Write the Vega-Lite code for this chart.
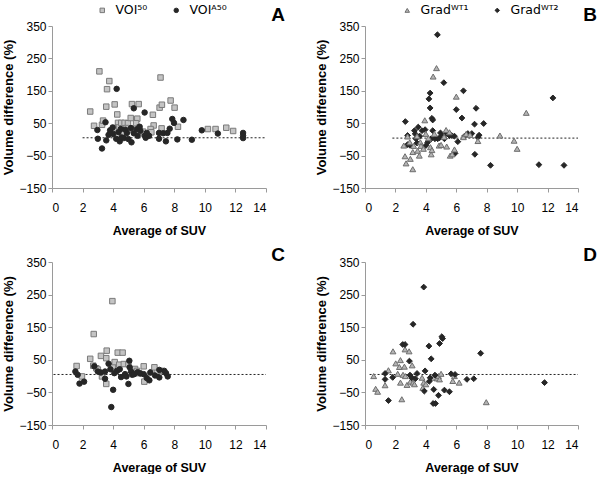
{
  "$schema": "https://vega.github.io/schema/vega-lite/v6.json",
  "background": "white",
  "padding": {"left": 2, "top": 4, "right": 0, "bottom": 0},
  "autosize": {"type": "pad"},
  "columns": 2,
  "spacing": {"row": 9, "column": 30},
  "config": {
    "view": {"stroke": null},
    "font": "Liberation Sans",
    "axis": {
      "grid": false,
      "domainColor": "#9a9a9a",
      "tickColor": "#9a9a9a",
      "tickSize": 4,
      "labelFont": "Liberation Sans",
      "labelFontSize": 12,
      "labelColor": "#000000",
      "titleFont": "Liberation Sans",
      "titleFontSize": 13,
      "titleFontWeight": "bold",
      "titleColor": "#000000"
    },
    "axisX": {"labelPadding": 10, "titlePadding": 11, "titleFontSize": 12.5},
    "axisY": {"labelPadding": 2, "titlePadding": 3},
    "legend": {
      "labelFont": "DejaVu Sans",
      "labelFontSize": 12.5,
      "labelColor": "#000000",
      "symbolSize": 20,
      "symbolStrokeWidth": 1,
      "columnPadding": 22,
      "labelOffset": 7
    },
    "title": {"font": "Liberation Sans", "fontSize": 19, "fontWeight": "bold", "color": "#000000", "anchor": "end", "frame": "group"}
  },
  "resolve": {
    "scale": {"x": "independent", "y": "independent", "color": "independent", "shape": "independent", "stroke": "independent"},
    "legend": {"color": "independent", "shape": "independent", "stroke": "independent"}
  },
  "datasets": {
    "lines": [
      {"p": "A", "x": 2.0, "xe": 14, "y": 5},
      {"p": "B", "x": 1.8, "xe": 14, "y": 4},
      {"p": "C", "x": 0.1, "xe": 14, "y": 5},
      {"p": "D", "x": 0.3, "xe": 14, "y": 5}
    ],
    "A": [
      {"x": 2.5, "y": 86, "s": "VOI⁵⁰"}, {"x": 2.75, "y": 42, "s": "VOI⁵⁰"}, {"x": 3.1, "y": 210, "s": "VOI⁵⁰"}, {"x": 3.27, "y": 45, "s": "VOI⁵⁰"},
      {"x": 3.34, "y": 58, "s": "VOI⁵⁰"}, {"x": 3.6, "y": 155, "s": "VOI⁵⁰"}, {"x": 3.75, "y": 180, "s": "VOI⁵⁰"}, {"x": 3.55, "y": 101, "s": "VOI⁵⁰"},
      {"x": 4.1, "y": 108, "s": "VOI⁵⁰"}, {"x": 4.27, "y": 77, "s": "VOI⁵⁰"}, {"x": 4.32, "y": 51, "s": "VOI⁵⁰"}, {"x": 4.3, "y": 37, "s": "VOI⁵⁰"},
      {"x": 4.53, "y": 51, "s": "VOI⁵⁰"}, {"x": 4.75, "y": 51, "s": "VOI⁵⁰"}, {"x": 4.97, "y": 50, "s": "VOI⁵⁰"}, {"x": 5.23, "y": 109, "s": "VOI⁵⁰"},
      {"x": 5.15, "y": 66, "s": "VOI⁵⁰"}, {"x": 5.67, "y": 109, "s": "VOI⁵⁰"}, {"x": 5.58, "y": 64, "s": "VOI⁵⁰"}, {"x": 5.5, "y": 50, "s": "VOI⁵⁰"},
      {"x": 5.95, "y": 24, "s": "VOI⁵⁰"}, {"x": 6.6, "y": 76, "s": "VOI⁵⁰"}, {"x": 6.65, "y": 43, "s": "VOI⁵⁰"}, {"x": 6.45, "y": 32, "s": "VOI⁵⁰"},
      {"x": 6.5, "y": 22, "s": "VOI⁵⁰"}, {"x": 7.04, "y": 98, "s": "VOI⁵⁰"}, {"x": 7.19, "y": 107, "s": "VOI⁵⁰"}, {"x": 7.1, "y": 191, "s": "VOI⁵⁰"},
      {"x": 7.17, "y": 34, "s": "VOI⁵⁰"}, {"x": 7.76, "y": 120, "s": "VOI⁵⁰"}, {"x": 8.02, "y": 98, "s": "VOI⁵⁰"}, {"x": 8.24, "y": 39, "s": "VOI⁵⁰"},
      {"x": 10.2, "y": 32, "s": "VOI⁵⁰"}, {"x": 10.7, "y": 32, "s": "VOI⁵⁰"}, {"x": 11.4, "y": 36, "s": "VOI⁵⁰"}, {"x": 11.85, "y": 26, "s": "VOI⁵⁰"},
      {"x": 6.05, "y": 16, "s": "VOI⁵⁰"}, {"x": 4.6, "y": 22, "s": "VOI⁵⁰"}, {"x": 4.85, "y": 35, "s": "VOI⁵⁰"}, {"x": 5.3, "y": 30, "s": "VOI⁵⁰"},
      {"x": 4.05, "y": 34, "s": "VOI⁵⁰"}, {"x": 5.7, "y": 36, "s": "VOI⁵⁰"},
      {"x": 2.97, "y": 29, "s": "VOIᴬ⁵⁰"}, {"x": 3.0, "y": 2, "s": "VOIᴬ⁵⁰"}, {"x": 3.27, "y": -28, "s": "VOIᴬ⁵⁰"}, {"x": 3.5, "y": 53, "s": "VOIᴬ⁵⁰"},
      {"x": 3.55, "y": -3, "s": "VOIᴬ⁵⁰"}, {"x": 3.7, "y": 14, "s": "VOIᴬ⁵⁰"}, {"x": 3.8, "y": 28, "s": "VOIᴬ⁵⁰"}, {"x": 3.97, "y": 37, "s": "VOIᴬ⁵⁰"},
      {"x": 4.0, "y": 17, "s": "VOIᴬ⁵⁰"}, {"x": 4.23, "y": 156, "s": "VOIᴬ⁵⁰"}, {"x": 4.2, "y": 2, "s": "VOIᴬ⁵⁰"}, {"x": 4.43, "y": -6, "s": "VOIᴬ⁵⁰"},
      {"x": 4.5, "y": 32, "s": "VOIᴬ⁵⁰"}, {"x": 4.55, "y": 6, "s": "VOIᴬ⁵⁰"}, {"x": 4.7, "y": 4, "s": "VOIᴬ⁵⁰"}, {"x": 4.9, "y": 20, "s": "VOIᴬ⁵⁰"},
      {"x": 5.0, "y": 1, "s": "VOIᴬ⁵⁰"}, {"x": 5.17, "y": 35, "s": "VOIᴬ⁵⁰"}, {"x": 5.2, "y": -9, "s": "VOIᴬ⁵⁰"}, {"x": 5.35, "y": 96, "s": "VOIᴬ⁵⁰"},
      {"x": 5.35, "y": 19, "s": "VOIᴬ⁵⁰"}, {"x": 5.55, "y": 31, "s": "VOIᴬ⁵⁰"}, {"x": 5.6, "y": 11, "s": "VOIᴬ⁵⁰"}, {"x": 5.73, "y": 39, "s": "VOIᴬ⁵⁰"},
      {"x": 5.78, "y": 27, "s": "VOIᴬ⁵⁰"}, {"x": 6.06, "y": 83, "s": "VOIᴬ⁵⁰"}, {"x": 6.08, "y": 12, "s": "VOIᴬ⁵⁰"}, {"x": 6.13, "y": 5, "s": "VOIᴬ⁵⁰"},
      {"x": 6.35, "y": 11, "s": "VOIᴬ⁵⁰"}, {"x": 7.0, "y": 20, "s": "VOIᴬ⁵⁰"}, {"x": 7.0, "y": 2, "s": "VOIᴬ⁵⁰"}, {"x": 7.28, "y": 19, "s": "VOIᴬ⁵⁰"},
      {"x": 7.45, "y": -6, "s": "VOIᴬ⁵⁰"}, {"x": 7.55, "y": 20, "s": "VOIᴬ⁵⁰"}, {"x": 7.7, "y": 33, "s": "VOIᴬ⁵⁰"}, {"x": 7.87, "y": 63, "s": "VOIᴬ⁵⁰"},
      {"x": 7.98, "y": 51, "s": "VOIᴬ⁵⁰"}, {"x": 8.2, "y": 0, "s": "VOIᴬ⁵⁰"}, {"x": 8.6, "y": 60, "s": "VOIᴬ⁵⁰"}, {"x": 9.15, "y": -1, "s": "VOIᴬ⁵⁰"},
      {"x": 9.8, "y": 28, "s": "VOIᴬ⁵⁰"}, {"x": 10.85, "y": 18, "s": "VOIᴬ⁵⁰"}, {"x": 12.5, "y": 20, "s": "VOIᴬ⁵⁰"}, {"x": 12.5, "y": 12, "s": "VOIᴬ⁵⁰"},
      {"x": 12.5, "y": 4, "s": "VOIᴬ⁵⁰"}, {"x": 4.35, "y": 22, "s": "VOIᴬ⁵⁰"}, {"x": 4.8, "y": 30, "s": "VOIᴬ⁵⁰"}, {"x": 6.2, "y": 20, "s": "VOIᴬ⁵⁰"}
    ],
    "B": [
      {"x": 2.65, "y": 55, "s": "Gradᵂᵀ²"}, {"x": 2.8, "y": 12, "s": "Gradᵂᵀ²"}, {"x": 2.8, "y": -16, "s": "Gradᵂᵀ²"}, {"x": 2.95, "y": -18, "s": "Gradᵂᵀ²"},
      {"x": 3.25, "y": 27, "s": "Gradᵂᵀ²"}, {"x": 3.3, "y": 17, "s": "Gradᵂᵀ²"}, {"x": 3.35, "y": 2, "s": "Gradᵂᵀ²"}, {"x": 3.42, "y": -11, "s": "Gradᵂᵀ²"},
      {"x": 3.5, "y": 38, "s": "Gradᵂᵀ²"}, {"x": 3.75, "y": 27, "s": "Gradᵂᵀ²"}, {"x": 3.95, "y": 30, "s": "Gradᵂᵀ²"}, {"x": 4.0, "y": -19, "s": "Gradᵂᵀ²"},
      {"x": 4.12, "y": -9, "s": "Gradᵂᵀ²"}, {"x": 4.2, "y": 125, "s": "Gradᵂᵀ²"}, {"x": 4.28, "y": 143, "s": "Gradᵂᵀ²"}, {"x": 4.28, "y": 97, "s": "Gradᵂᵀ²"},
      {"x": 4.35, "y": 2, "s": "Gradᵂᵀ²"}, {"x": 4.4, "y": 65, "s": "Gradᵂᵀ²"}, {"x": 4.45, "y": 60, "s": "Gradᵂᵀ²"}, {"x": 4.45, "y": 27, "s": "Gradᵂᵀ²"},
      {"x": 4.6, "y": 2, "s": "Gradᵂᵀ²"}, {"x": 4.76, "y": 323, "s": "Gradᵂᵀ²"}, {"x": 4.78, "y": 2, "s": "Gradᵂᵀ²"}, {"x": 4.96, "y": 20, "s": "Gradᵂᵀ²"},
      {"x": 5.18, "y": 175, "s": "Gradᵂᵀ²"}, {"x": 5.22, "y": 2, "s": "Gradᵂᵀ²"}, {"x": 5.37, "y": 18, "s": "Gradᵂᵀ²"}, {"x": 5.55, "y": 12, "s": "Gradᵂᵀ²"},
      {"x": 5.7, "y": 12, "s": "Gradᵂᵀ²"}, {"x": 5.88, "y": 10, "s": "Gradᵂᵀ²"}, {"x": 5.92, "y": -43, "s": "Gradᵂᵀ²"}, {"x": 6.0, "y": 92, "s": "Gradᵂᵀ²"},
      {"x": 6.1, "y": -7, "s": "Gradᵂᵀ²"}, {"x": 6.47, "y": 150, "s": "Gradᵂᵀ²"}, {"x": 6.37, "y": 66, "s": "Gradᵂᵀ²"}, {"x": 6.54, "y": 10, "s": "Gradᵂᵀ²"},
      {"x": 6.76, "y": 18, "s": "Gradᵂᵀ²"}, {"x": 7.02, "y": 18, "s": "Gradᵂᵀ²"}, {"x": 7.2, "y": 47, "s": "Gradᵂᵀ²"}, {"x": 7.22, "y": -46, "s": "Gradᵂᵀ²"},
      {"x": 7.3, "y": 96, "s": "Gradᵂᵀ²"}, {"x": 7.42, "y": 6, "s": "Gradᵂᵀ²"}, {"x": 7.5, "y": 13, "s": "Gradᵂᵀ²"}, {"x": 7.8, "y": 49, "s": "Gradᵂᵀ²"},
      {"x": 8.25, "y": -80, "s": "Gradᵂᵀ²"}, {"x": 11.43, "y": -78, "s": "Gradᵂᵀ²"}, {"x": 12.35, "y": 128, "s": "Gradᵂᵀ²"}, {"x": 13.08, "y": -80, "s": "Gradᵂᵀ²"},
      {"x": 4.9, "y": 5, "s": "Gradᵂᵀ²"}, {"x": 5.1, "y": 10, "s": "Gradᵂᵀ²"}, {"x": 3.6, "y": 10, "s": "Gradᵂᵀ²"},
      {"x": 2.55, "y": -19, "s": "Gradᵂᵀ¹"}, {"x": 2.63, "y": -52, "s": "Gradᵂᵀ¹"}, {"x": 2.7, "y": -74, "s": "Gradᵂᵀ¹"}, {"x": 2.8, "y": 9, "s": "Gradᵂᵀ¹"},
      {"x": 2.94, "y": -9, "s": "Gradᵂᵀ¹"}, {"x": 2.98, "y": -60, "s": "Gradᵂᵀ¹"}, {"x": 3.14, "y": -39, "s": "Gradᵂᵀ¹"}, {"x": 3.14, "y": -92, "s": "Gradᵂᵀ¹"},
      {"x": 3.42, "y": 10, "s": "Gradᵂᵀ¹"}, {"x": 3.46, "y": -35, "s": "Gradᵂᵀ¹"}, {"x": 3.57, "y": -50, "s": "Gradᵂᵀ¹"}, {"x": 3.64, "y": -9, "s": "Gradᵂᵀ¹"},
      {"x": 3.68, "y": -20, "s": "Gradᵂᵀ¹"}, {"x": 3.84, "y": -29, "s": "Gradᵂᵀ¹"}, {"x": 3.93, "y": 59, "s": "Gradᵂᵀ¹"}, {"x": 4.0, "y": 17, "s": "Gradᵂᵀ¹"},
      {"x": 4.17, "y": 4, "s": "Gradᵂᵀ¹"}, {"x": 4.3, "y": -24, "s": "Gradᵂᵀ¹"}, {"x": 4.35, "y": -46, "s": "Gradᵂᵀ¹"}, {"x": 4.4, "y": -33, "s": "Gradᵂᵀ¹"},
      {"x": 4.48, "y": 194, "s": "Gradᵂᵀ¹"}, {"x": 4.7, "y": 220, "s": "Gradᵂᵀ¹"}, {"x": 4.56, "y": 17, "s": "Gradᵂᵀ¹"}, {"x": 4.87, "y": -19, "s": "Gradᵂᵀ¹"},
      {"x": 5.0, "y": -17, "s": "Gradᵂᵀ¹"}, {"x": 5.33, "y": 29, "s": "Gradᵂᵀ¹"}, {"x": 5.37, "y": -22, "s": "Gradᵂᵀ¹"}, {"x": 5.55, "y": 22, "s": "Gradᵂᵀ¹"},
      {"x": 5.6, "y": -50, "s": "Gradᵂᵀ¹"}, {"x": 5.73, "y": -46, "s": "Gradᵂᵀ¹"}, {"x": 5.88, "y": -31, "s": "Gradᵂᵀ¹"}, {"x": 6.0, "y": 132, "s": "Gradᵂᵀ¹"},
      {"x": 6.47, "y": 7, "s": "Gradᵂᵀ¹"}, {"x": 6.65, "y": 17, "s": "Gradᵂᵀ¹"}, {"x": 7.42, "y": -5, "s": "Gradᵂᵀ¹"}, {"x": 8.87, "y": 12, "s": "Gradᵂᵀ¹"},
      {"x": 9.8, "y": -4, "s": "Gradᵂᵀ¹"}, {"x": 10.0, "y": -29, "s": "Gradᵂᵀ¹"}, {"x": 10.6, "y": 82, "s": "Gradᵂᵀ¹"}, {"x": 5.2, "y": 8, "s": "Gradᵂᵀ¹"},
      {"x": 6.9, "y": 14, "s": "Gradᵂᵀ¹"}, {"x": 3.2, "y": -20, "s": "Gradᵂᵀ¹"}
    ],
    "C": [
      {"x": 1.61, "y": 31, "s": "VOI⁵⁰"}, {"x": 1.96, "y": -1, "s": "VOI⁵⁰"}, {"x": 2.5, "y": 53, "s": "VOI⁵⁰"}, {"x": 2.73, "y": 129, "s": "VOI⁵⁰"},
      {"x": 2.7, "y": 32, "s": "VOI⁵⁰"}, {"x": 2.9, "y": 24, "s": "VOI⁵⁰"}, {"x": 3.2, "y": 62, "s": "VOI⁵⁰"}, {"x": 3.27, "y": -1, "s": "VOI⁵⁰"},
      {"x": 3.55, "y": 55, "s": "VOI⁵⁰"}, {"x": 3.58, "y": 78, "s": "VOI⁵⁰"}, {"x": 3.55, "y": -24, "s": "VOI⁵⁰"}, {"x": 3.95, "y": 230, "s": "VOI⁵⁰"},
      {"x": 3.97, "y": 30, "s": "VOI⁵⁰"}, {"x": 4.1, "y": 43, "s": "VOI⁵⁰"}, {"x": 4.3, "y": 72, "s": "VOI⁵⁰"}, {"x": 4.62, "y": 72, "s": "VOI⁵⁰"},
      {"x": 4.4, "y": 35, "s": "VOI⁵⁰"}, {"x": 4.7, "y": 37, "s": "VOI⁵⁰"}, {"x": 5.0, "y": 37, "s": "VOI⁵⁰"}, {"x": 5.43, "y": 22, "s": "VOI⁵⁰"},
      {"x": 5.56, "y": 16, "s": "VOI⁵⁰"}, {"x": 5.7, "y": 9, "s": "VOI⁵⁰"}, {"x": 6.0, "y": 30, "s": "VOI⁵⁰"}, {"x": 6.04, "y": -17, "s": "VOI⁵⁰"},
      {"x": 6.55, "y": 12, "s": "VOI⁵⁰"}, {"x": 6.7, "y": 27, "s": "VOI⁵⁰"}, {"x": 7.13, "y": 16, "s": "VOI⁵⁰"}, {"x": 3.0, "y": 20, "s": "VOI⁵⁰"},
      {"x": 1.53, "y": 14, "s": "VOIᴬ⁵⁰"}, {"x": 1.68, "y": 4, "s": "VOIᴬ⁵⁰"}, {"x": 1.8, "y": -23, "s": "VOIᴬ⁵⁰"}, {"x": 2.1, "y": -17, "s": "VOIᴬ⁵⁰"},
      {"x": 2.77, "y": 30, "s": "VOIᴬ⁵⁰"}, {"x": 3.0, "y": 14, "s": "VOIᴬ⁵⁰"}, {"x": 3.2, "y": 11, "s": "VOIᴬ⁵⁰"}, {"x": 3.47, "y": 14, "s": "VOIᴬ⁵⁰"},
      {"x": 3.47, "y": -8, "s": "VOIᴬ⁵⁰"}, {"x": 3.7, "y": 38, "s": "VOIᴬ⁵⁰"}, {"x": 3.82, "y": 21, "s": "VOIᴬ⁵⁰"}, {"x": 3.88, "y": -95, "s": "VOIᴬ⁵⁰"},
      {"x": 4.0, "y": -42, "s": "VOIᴬ⁵⁰"}, {"x": 4.08, "y": 9, "s": "VOIᴬ⁵⁰"}, {"x": 4.25, "y": 16, "s": "VOIᴬ⁵⁰"}, {"x": 4.43, "y": 21, "s": "VOIᴬ⁵⁰"},
      {"x": 4.52, "y": -3, "s": "VOIᴬ⁵⁰"}, {"x": 4.78, "y": 6, "s": "VOIᴬ⁵⁰"}, {"x": 4.87, "y": -1, "s": "VOIᴬ⁵⁰"}, {"x": 5.06, "y": 47, "s": "VOIᴬ⁵⁰"},
      {"x": 5.08, "y": 27, "s": "VOIᴬ⁵⁰"}, {"x": 5.0, "y": -24, "s": "VOIᴬ⁵⁰"}, {"x": 5.17, "y": 14, "s": "VOIᴬ⁵⁰"}, {"x": 5.25, "y": 4, "s": "VOIᴬ⁵⁰"},
      {"x": 5.38, "y": 6, "s": "VOIᴬ⁵⁰"}, {"x": 5.6, "y": 12, "s": "VOIᴬ⁵⁰"}, {"x": 5.78, "y": 8, "s": "VOIᴬ⁵⁰"}, {"x": 6.0, "y": 6, "s": "VOIᴬ⁵⁰"},
      {"x": 6.2, "y": -6, "s": "VOIᴬ⁵⁰"}, {"x": 6.37, "y": -13, "s": "VOIᴬ⁵⁰"}, {"x": 6.43, "y": 11, "s": "VOIᴬ⁵⁰"}, {"x": 6.74, "y": 2, "s": "VOIᴬ⁵⁰"},
      {"x": 7.02, "y": 19, "s": "VOIᴬ⁵⁰"}, {"x": 7.02, "y": -4, "s": "VOIᴬ⁵⁰"}, {"x": 7.35, "y": 16, "s": "VOIᴬ⁵⁰"}, {"x": 7.46, "y": 9, "s": "VOIᴬ⁵⁰"},
      {"x": 7.57, "y": -1, "s": "VOIᴬ⁵⁰"}
    ],
    "D": [
      {"x": 0.57, "y": 0, "s": "Gradᵂᵀ¹"}, {"x": 0.7, "y": -39, "s": "Gradᵂᵀ¹"}, {"x": 0.83, "y": -48, "s": "Gradᵂᵀ¹"}, {"x": 1.32, "y": -28, "s": "Gradᵂᵀ¹"},
      {"x": 1.54, "y": 18, "s": "Gradᵂᵀ¹"}, {"x": 1.84, "y": 76, "s": "Gradᵂᵀ¹"}, {"x": 2.02, "y": 39, "s": "Gradᵂᵀ¹"}, {"x": 2.15, "y": 7, "s": "Gradᵂᵀ¹"},
      {"x": 2.26, "y": 28, "s": "Gradᵂᵀ¹"}, {"x": 2.33, "y": 49, "s": "Gradᵂᵀ¹"}, {"x": 2.33, "y": -20, "s": "Gradᵂᵀ¹"}, {"x": 2.42, "y": -71, "s": "Gradᵂᵀ¹"},
      {"x": 2.5, "y": 4, "s": "Gradᵂᵀ¹"}, {"x": 2.59, "y": 29, "s": "Gradᵂᵀ¹"}, {"x": 2.63, "y": 82, "s": "Gradᵂᵀ¹"}, {"x": 2.65, "y": 0, "s": "Gradᵂᵀ¹"},
      {"x": 2.76, "y": -27, "s": "Gradᵂᵀ¹"}, {"x": 2.9, "y": 76, "s": "Gradᵂᵀ¹"}, {"x": 2.98, "y": -17, "s": "Gradᵂᵀ¹"}, {"x": 3.1, "y": 33, "s": "Gradᵂᵀ¹"},
      {"x": 3.16, "y": -20, "s": "Gradᵂᵀ¹"}, {"x": 3.25, "y": -25, "s": "Gradᵂᵀ¹"}, {"x": 3.75, "y": -5, "s": "Gradᵂᵀ¹"}, {"x": 3.8, "y": -36, "s": "Gradᵂᵀ¹"},
      {"x": 3.86, "y": -20, "s": "Gradᵂᵀ¹"}, {"x": 4.0, "y": -25, "s": "Gradᵂᵀ¹"}, {"x": 4.52, "y": -5, "s": "Gradᵂᵀ¹"}, {"x": 4.74, "y": -7, "s": "Gradᵂᵀ¹"},
      {"x": 4.83, "y": 0, "s": "Gradᵂᵀ¹"}, {"x": 4.9, "y": -10, "s": "Gradᵂᵀ¹"}, {"x": 5.0, "y": 7, "s": "Gradᵂᵀ¹"}, {"x": 5.77, "y": -15, "s": "Gradᵂᵀ¹"},
      {"x": 5.88, "y": 0, "s": "Gradᵂᵀ¹"}, {"x": 6.19, "y": -20, "s": "Gradᵂᵀ¹"}, {"x": 7.97, "y": -80, "s": "Gradᵂᵀ¹"},
      {"x": 1.32, "y": 8, "s": "Gradᵂᵀ²"}, {"x": 1.32, "y": -10, "s": "Gradᵂᵀ²"}, {"x": 1.54, "y": -75, "s": "Gradᵂᵀ²"}, {"x": 1.82, "y": -4, "s": "Gradᵂᵀ²"},
      {"x": 2.48, "y": 97, "s": "Gradᵂᵀ²"}, {"x": 2.63, "y": 97, "s": "Gradᵂᵀ²"}, {"x": 2.92, "y": 46, "s": "Gradᵂᵀ²"}, {"x": 2.96, "y": 3, "s": "Gradᵂᵀ²"},
      {"x": 3.07, "y": -5, "s": "Gradᵂᵀ²"}, {"x": 3.16, "y": 159, "s": "Gradᵂᵀ²"}, {"x": 3.31, "y": -8, "s": "Gradᵂᵀ²"}, {"x": 3.42, "y": 8, "s": "Gradᵂᵀ²"},
      {"x": 3.86, "y": 273, "s": "Gradᵂᵀ²"}, {"x": 3.9, "y": -46, "s": "Gradᵂᵀ²"}, {"x": 3.95, "y": 16, "s": "Gradᵂᵀ²"}, {"x": 4.2, "y": 92, "s": "Gradᵂᵀ²"},
      {"x": 4.23, "y": -16, "s": "Gradᵂᵀ²"}, {"x": 4.28, "y": -5, "s": "Gradᵂᵀ²"}, {"x": 4.35, "y": 53, "s": "Gradᵂᵀ²"}, {"x": 4.52, "y": -41, "s": "Gradᵂᵀ²"},
      {"x": 4.48, "y": -84, "s": "Gradᵂᵀ²"}, {"x": 4.63, "y": -84, "s": "Gradᵂᵀ²"}, {"x": 4.6, "y": 3, "s": "Gradᵂᵀ²"}, {"x": 4.83, "y": -59, "s": "Gradᵂᵀ²"},
      {"x": 4.9, "y": 100, "s": "Gradᵂᵀ²"}, {"x": 5.05, "y": 121, "s": "Gradᵂᵀ²"}, {"x": 5.1, "y": 115, "s": "Gradᵂᵀ²"}, {"x": 5.22, "y": -43, "s": "Gradᵂᵀ²"},
      {"x": 5.55, "y": -48, "s": "Gradᵂᵀ²"}, {"x": 5.66, "y": 7, "s": "Gradᵂᵀ²"}, {"x": 5.92, "y": 5, "s": "Gradᵂᵀ²"}, {"x": 6.7, "y": -10, "s": "Gradᵂᵀ²"},
      {"x": 7.15, "y": -8, "s": "Gradᵂᵀ²"}, {"x": 7.6, "y": 70, "s": "Gradᵂᵀ²"}, {"x": 11.8, "y": -20, "s": "Gradᵂᵀ²"}
    ]
  },
  "concat": [
    {
      "width": 214, "height": 162,
      "title": {"text": "A", "dx": 19, "offset": -21},
      "encoding": {
        "x": {"field": "x", "type": "quantitative", "scale": {"domain": [0, 14], "nice": false}, "axis": {"values": [0, 2, 4, 6, 8, 10, 12, 14], "title": "Average of SUV"}},
        "y": {"field": "y", "type": "quantitative", "scale": {"domain": [-150, 350], "nice": false}, "axis": {"values": [-150, -50, 50, 150, 250, 350], "title": "Volume difference (%)"}}
      },
      "layer": [
        {"data": {"name": "lines"}, "transform": [{"filter": "datum.p === 'A'"}], "mark": {"type": "rule", "strokeDash": [2, 2], "color": "#222222", "strokeWidth": 1}, "encoding": {"x2": {"field": "xe"}}},
        {"data": {"name": "A"}, "mark": {"type": "point", "filled": true, "size": 30, "strokeWidth": 1, "opacity": 1},
         "encoding": {
           "color": {"field": "s", "type": "nominal", "scale": {"domain": ["VOI⁵⁰", "VOIᴬ⁵⁰"], "range": ["#c4c4c4", "#262626"]}, "legend": {"orient": "none", "legendX": 44, "legendY": -22, "direction": "horizontal", "title": null}},
           "shape": {"field": "s", "type": "nominal", "scale": {"domain": ["VOI⁵⁰", "VOIᴬ⁵⁰"], "range": ["square", "circle"]}},
           "stroke": {"field": "s", "type": "nominal", "scale": {"domain": ["VOI⁵⁰", "VOIᴬ⁵⁰"], "range": ["#7a7a7a", "#262626"]}}
         }}
      ]
    },
    {
      "width": 213, "height": 162,
      "title": {"text": "B", "dx": 19, "offset": -21},
      "encoding": {
        "x": {"field": "x", "type": "quantitative", "scale": {"domain": [0, 14], "nice": false}, "axis": {"values": [0, 2, 4, 6, 8, 10, 12, 14], "title": "Average of SUV"}},
        "y": {"field": "y", "type": "quantitative", "scale": {"domain": [-150, 350], "nice": false}, "axis": {"values": [-150, -50, 50, 150, 250, 350], "title": "Volume difference (%)"}}
      },
      "layer": [
        {"data": {"name": "lines"}, "transform": [{"filter": "datum.p === 'B'"}], "mark": {"type": "rule", "strokeDash": [2, 2], "color": "#222222", "strokeWidth": 1}, "encoding": {"x2": {"field": "xe"}}},
        {"data": {"name": "B"}, "mark": {"type": "point", "filled": true, "size": 34, "strokeWidth": 1, "opacity": 1},
         "encoding": {
           "color": {"field": "s", "type": "nominal", "scale": {"domain": ["Gradᵂᵀ¹", "Gradᵂᵀ²"], "range": ["#b4b4b4", "#262626"]}, "legend": {"orient": "none", "legendX": 36, "legendY": -22, "direction": "horizontal", "title": null}},
           "shape": {"field": "s", "type": "nominal", "scale": {"domain": ["Gradᵂᵀ¹", "Gradᵂᵀ²"], "range": ["triangle-up", "diamond"]}},
           "stroke": {"field": "s", "type": "nominal", "scale": {"domain": ["Gradᵂᵀ¹", "Gradᵂᵀ²"], "range": ["#6e6e6e", "#262626"]}}
         }}
      ]
    },
    {
      "width": 214, "height": 163,
      "title": {"text": "C", "dx": 19, "offset": -9},
      "encoding": {
        "x": {"field": "x", "type": "quantitative", "scale": {"domain": [0, 14], "nice": false}, "axis": {"values": [0, 2, 4, 6, 8, 10, 12, 14], "title": "Average of SUV"}},
        "y": {"field": "y", "type": "quantitative", "scale": {"domain": [-150, 350], "nice": false}, "axis": {"values": [-150, -50, 50, 150, 250, 350], "title": "Volume difference (%)"}}
      },
      "layer": [
        {"data": {"name": "lines"}, "transform": [{"filter": "datum.p === 'C'"}], "mark": {"type": "rule", "strokeDash": [2, 2], "color": "#222222", "strokeWidth": 1}, "encoding": {"x2": {"field": "xe"}}},
        {"data": {"name": "C"}, "mark": {"type": "point", "filled": true, "size": 30, "strokeWidth": 1, "opacity": 1},
         "encoding": {
           "color": {"field": "s", "type": "nominal", "scale": {"domain": ["VOI⁵⁰", "VOIᴬ⁵⁰"], "range": ["#c4c4c4", "#262626"]}, "legend": null},
           "shape": {"field": "s", "type": "nominal", "scale": {"domain": ["VOI⁵⁰", "VOIᴬ⁵⁰"], "range": ["square", "circle"]}, "legend": null},
           "stroke": {"field": "s", "type": "nominal", "scale": {"domain": ["VOI⁵⁰", "VOIᴬ⁵⁰"], "range": ["#7a7a7a", "#262626"]}, "legend": null}
         }}
      ]
    },
    {
      "width": 213, "height": 163,
      "title": {"text": "D", "dx": 19, "offset": -9},
      "encoding": {
        "x": {"field": "x", "type": "quantitative", "scale": {"domain": [0, 14], "nice": false}, "axis": {"values": [0, 2, 4, 6, 8, 10, 12, 14], "title": "Average of SUV"}},
        "y": {"field": "y", "type": "quantitative", "scale": {"domain": [-150, 350], "nice": false}, "axis": {"values": [-150, -50, 50, 150, 250, 350], "title": "Volume difference (%)"}}
      },
      "layer": [
        {"data": {"name": "lines"}, "transform": [{"filter": "datum.p === 'D'"}], "mark": {"type": "rule", "strokeDash": [2, 2], "color": "#222222", "strokeWidth": 1}, "encoding": {"x2": {"field": "xe"}}},
        {"data": {"name": "D"}, "mark": {"type": "point", "filled": true, "size": 34, "strokeWidth": 1, "opacity": 1},
         "encoding": {
           "color": {"field": "s", "type": "nominal", "scale": {"domain": ["Gradᵂᵀ¹", "Gradᵂᵀ²"], "range": ["#b4b4b4", "#262626"]}, "legend": null},
           "shape": {"field": "s", "type": "nominal", "scale": {"domain": ["Gradᵂᵀ¹", "Gradᵂᵀ²"], "range": ["triangle-up", "diamond"]}, "legend": null},
           "stroke": {"field": "s", "type": "nominal", "scale": {"domain": ["Gradᵂᵀ¹", "Gradᵂᵀ²"], "range": ["#6e6e6e", "#262626"]}, "legend": null}
         }}
      ]
    }
  ]
}
